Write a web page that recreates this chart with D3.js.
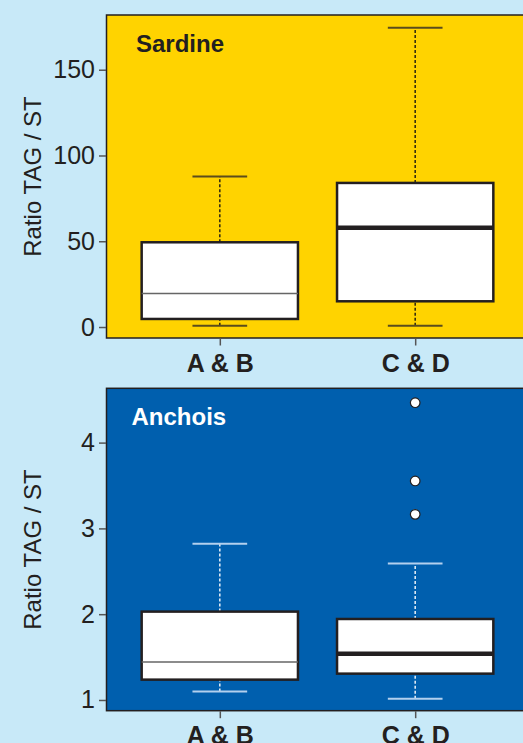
<!DOCTYPE html>
<html lang="en">
<head>
    <title>Ratio TAG/ST</title>
    <script src="https://d3js.org/d3.v7.min.js"></script>
    <style>
        body { margin: 0; background: #c8e9f8; overflow: hidden; }
        svg { display: block; font-family: "Liberation Sans", Arial, sans-serif; }
        .tick text { font-size: 25px; fill: #231f20; }
    </style>
</head>
<body>

<script>
    const groups = ["A & B", "C & D"];

    // sardine: whisker low, Q1, median, Q3, whisker high
    const sardineMin = [0.8, 0.8];
    const sardineQ1 = [4.7, 15];
    const sardineMedian = [19.6, 57.9];
    const sardineQ3 = [49.4, 84];
    const sardineMax = [87.7, 174.4];
    const sardineOutliers = [[], []];
    const sardineTicks = [0, 50, 100, 150];

    // anchois
    const anchoisMin = [1.10, 1.015];
    const anchoisQ1 = [1.237, 1.307];
    const anchoisMedian = [1.443, 1.54];
    const anchoisQ3 = [2.03, 1.944];
    const anchoisMax = [2.82, 2.59];
    const anchoisOutliers = [[], [3.164, 3.553, 4.465]];
    const anchoisTicks = [1, 2, 3, 4];

    const svg = d3.select("body").append("svg").attr("width", 523).attr("height", 743);

    function panel(opt) {
        const x = d3.scaleLinear().domain([0.42, 2.58]).range([106.5, 528.5]);
        const y = d3.scaleLinear().domain(opt.domain).range([opt.bottom, opt.top]);
        const g = svg.append("g");

        g.append("rect")
            .attr("x", x(0.42)).attr("y", opt.top)
            .attr("width", x(2.58) - x(0.42)).attr("height", opt.bottom - opt.top)
            .attr("fill", opt.fill).attr("stroke", "#231f20").attr("stroke-width", 1.5);

        g.append("text")
            .attr("x", opt.titleX).attr("y", opt.titleY)
            .attr("font-size", 24).attr("font-weight", "bold")
            .attr("fill", opt.titleColor).text(opt.title);

        // y axis
        const ya = g.append("g").attr("transform", `translate(${x(0.42) - 0.5},0)`)
            .call(d3.axisLeft(y).tickValues(opt.ticks).tickFormat(d3.format("d")).tickSize(7).tickPadding(4));
        ya.select(".domain").remove();
        ya.selectAll(".tick line").attr("stroke", "#555").attr("stroke-width", 1.5);

        // x axis
        const xa = g.append("g").attr("transform", `translate(0,${opt.bottom + 0.5})`)
            .call(d3.axisBottom(x).tickValues([1, 2]).tickFormat((d, i) => groups[i]).tickSize(7).tickPadding(3));
        xa.select(".domain").remove();
        xa.selectAll(".tick line").attr("stroke", "#555").attr("stroke-width", 1.5);
        xa.selectAll(".tick text").attr("font-weight", "bold").attr("font-size", 23).attr("dy", "0.92em");

        g.append("text")
            .attr("transform", `translate(41,${(opt.top + opt.bottom) / 2}) rotate(-90)`)
            .attr("text-anchor", "middle").attr("font-size", 24).attr("fill", "#231f20")
            .text("Ratio TAG / ST");

        groups.forEach((name, i) => {
            const cx = x(i + 1);
            // whiskers
            [[opt.min[i], opt.q1[i]], [opt.q3[i], opt.max[i]]].forEach(([a, b]) => {
                g.append("line")
                    .attr("x1", cx).attr("x2", cx).attr("y1", y(a)).attr("y2", y(b))
                    .attr("stroke", opt.whisker).attr("stroke-width", 1.5)
                    .attr("stroke-dasharray", "3,2");
            });
            [opt.min[i], opt.max[i]].forEach(v => {
                g.append("line")
                    .attr("x1", x(i + 0.86)).attr("x2", x(i + 1.14))
                    .attr("y1", y(v)).attr("y2", y(v))
                    .attr("stroke", opt.cap).attr("stroke-width", 2);
            });
            // box
            g.append("rect")
                .attr("x", x(i + 0.6)).attr("y", y(opt.q3[i]))
                .attr("width", x(i + 1.4) - x(i + 0.6))
                .attr("height", y(opt.q1[i]) - y(opt.q3[i]))
                .attr("fill", "white").attr("stroke", "#231f20").attr("stroke-width", 2.5);
            // median
            g.append("line")
                .attr("x1", x(i + 0.6)).attr("x2", x(i + 1.4))
                .attr("y1", y(opt.median[i])).attr("y2", y(opt.median[i]))
                .attr("stroke", i === 0 ? "#666" : "#231f20")
                .attr("stroke-width", i === 0 ? 1.5 : 4.5);
            // outliers
            g.selectAll(null).data(opt.outliers[i]).join("circle")
                .attr("cx", cx).attr("cy", d => y(d)).attr("r", 4.8)
                .attr("fill", "white").attr("stroke", "#231f20").attr("stroke-width", 1.2);
        });
    }

    panel({
        top: 15, bottom: 338, domain: [-6.4, 181.9], ticks: sardineTicks,
        fill: "#ffd300", title: "Sardine", titleColor: "#231f20", titleX: 136, titleY: 52,
        whisker: "#2a2410", cap: "#5a4c1c",
        min: sardineMin, q1: sardineQ1, median: sardineMedian, q3: sardineQ3, max: sardineMax,
        outliers: sardineOutliers
    });

    panel({
        top: 388.3, bottom: 710.7, domain: [0.875, 4.633], ticks: anchoisTicks,
        fill: "#005fae", title: "Anchois", titleColor: "white", titleX: 131.5, titleY: 425,
        whisker: "#e8f0f8", cap: "#b3d0ee",
        min: anchoisMin, q1: anchoisQ1, median: anchoisMedian, q3: anchoisQ3, max: anchoisMax,
        outliers: anchoisOutliers
    });
</script>

</body>
</html>
